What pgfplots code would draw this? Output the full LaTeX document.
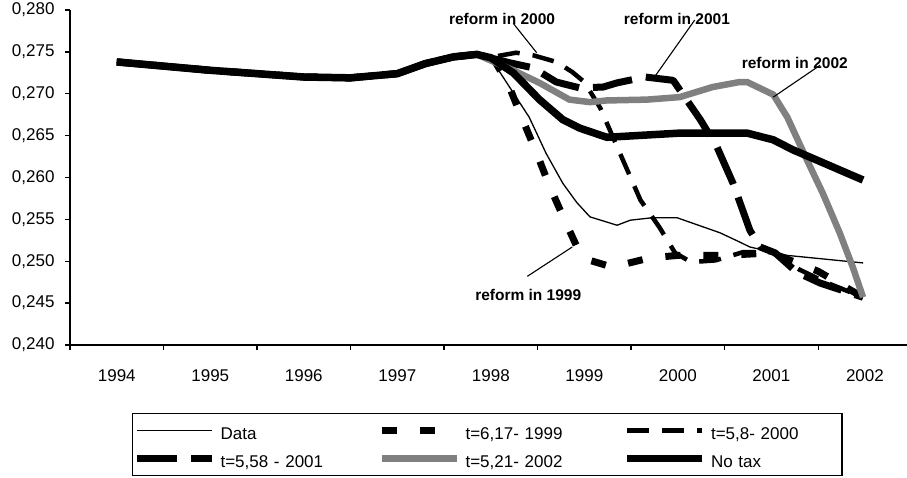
\documentclass[border=0pt]{standalone}
\usepackage{fontspec}
\setmainfont{Liberation Sans}
\usepackage{pgfplots}
\pgfplotsset{compat=1.18}
\definecolor{grayline}{RGB}{128,128,128}

\begin{document}
\begin{tikzpicture}
\useasboundingbox (-70pt,-132pt) rectangle (837pt,345pt);
\begin{axis}[
  scale only axis, width=837pt, height=335pt,
  xmin=1993.5, xmax=2002.45, ymin=0.240, ymax=0.280,
  axis lines*=left,
  axis line style={line width=1.5pt},
  clip=false,
  tick align=outside,
  major tick length=5pt,
  every tick/.style={black, line width=1.3pt},
  xtick={1993.5,1994.5,1995.5,1996.5,1997.5,1998.5,1999.5,2000.5,2001.5},
  xticklabels={},
  extra x ticks={1994,1995,1996,1997,1998,1999,2000,2001,2002},
  extra x tick labels={1994,1995,1996,1997,1998,1999,2000,2001,2002},
  extra x tick style={major tick length=0pt},
  ytick={0.240,0.245,0.250,0.255,0.260,0.265,0.270,0.275,0.280},
  scaled y ticks=false,
  yticklabel style={xshift=-7pt, /pgf/number format/.cd, fixed, fixed zerofill, precision=3, use comma},
  /pgf/number format/assume math mode=true,
  every tick label/.append style={font=\fontsize{17}{20}\selectfont},
  xticklabel style={yshift=-21pt},
  legend columns=3,
  legend image code/.code={\draw[#1] (0pt,9pt) -- (75pt,9pt);},
  legend style={
    at={(0.074,-0.2030)}, anchor=north west,
    draw=black, line width=1.3pt,
    inner xsep=1pt, inner ysep=8pt,
    row sep=10pt,
    font=\fontsize{17}{20}\selectfont,
    nodes={inner sep=0pt, anchor=base west, text height=18pt, text depth=0pt, text width=130pt, align=left},
    /tikz/every odd column/.append style={column sep=5pt},
    /tikz/every even column/.append style={column sep=28pt},
  },
  legend cell align=left,
  every axis plot/.append style={mark=none, line join=round},
]
% Data
\addplot[black, line width=1.3pt] coordinates {
(1994.0,0.2738) (1994.5,0.2733) (1995.0,0.2728) (1995.5,0.2724) (1996.0,0.2720) (1996.5,0.2719) (1997.0,0.2724) (1997.3,0.2736) (1997.6,0.2744) (1997.85,0.2747)
(1998.0,0.2740) (1998.06,0.2732) (1998.27,0.2696) (1998.41,0.2672) (1998.59,0.2629) (1998.77,0.2593) (1998.92,0.2570) (1999.06,0.2553) (1999.35,0.2543) (1999.49,0.2549) (1999.73,0.2552) (1999.99,0.2552) (2000.45,0.2534) (2000.66,0.2523) (2000.77,0.2517) (2001.17,0.2507) (2001.98,0.2498)};
\addlegendentry{Data}
% reform 1999
\addplot[black, line width=7pt, dash pattern=on 15pt off 23pt] coordinates {
(1994.0,0.2738) (1994.5,0.2733) (1995.0,0.2728) (1995.5,0.2724) (1996.0,0.2720) (1996.5,0.2719) (1997.0,0.2724) (1997.3,0.2736) (1997.6,0.2744) (1997.85,0.2747)
(1998.02,0.2743) (1998.18,0.2713) (1998.34,0.2669) (1998.49,0.2629) (1998.63,0.2589) (1998.79,0.2549) (1998.95,0.2510) (1999.06,0.2501) (1999.3,0.2493) (1999.7,0.2504) (2000.0,0.2507) (2000.5,0.2507) (2001.0,0.2510) (2001.5,0.2488) (2001.98,0.2457)};
\addlegendentry{t=6,17- 1999}
% reform 2000
\addplot[black, line width=4.5pt, dash pattern=on 22pt off 13pt] coordinates {
(1994.0,0.2738) (1994.5,0.2733) (1995.0,0.2728) (1995.5,0.2724) (1996.0,0.2720) (1996.5,0.2719) (1997.0,0.2724) (1997.3,0.2736) (1997.6,0.2744) (1997.85,0.2747)
(1998.02,0.2744) (1998.27,0.2749) (1998.45,0.2746) (1998.7,0.2738) (1998.87,0.2726) (1999.0,0.2714) (1999.17,0.2683) (1999.4,0.2624) (1999.6,0.2573) (1999.8,0.2541) (1999.97,0.2510) (2000.14,0.2499) (2000.4,0.2501) (2000.7,0.2511) (2001.0,0.2511) (2001.3,0.2490) (2001.6,0.2474) (2001.98,0.2457)};
\addlegendentry{t=5,8- 2000}
% reform 2001
\addplot[black, line width=7pt, dash pattern=on 40pt off 14pt] coordinates {
(1994.0,0.2738) (1994.5,0.2733) (1995.0,0.2728) (1995.5,0.2724) (1996.0,0.2720) (1996.5,0.2719) (1997.0,0.2724) (1997.3,0.2736) (1997.6,0.2744) (1997.85,0.2747)
(1998.2,0.2737) (1998.45,0.2731) (1998.7,0.2714) (1998.95,0.2707) (1999.2,0.2708) (1999.35,0.2713) (1999.65,0.2720) (1999.95,0.2716) (2000.24,0.2669) (2000.42,0.2636) (2000.59,0.2593) (2000.77,0.2537) (2000.88,0.2517) (2001.04,0.2510) (2001.27,0.2487) (2001.52,0.2474) (2001.98,0.2457)};
\addlegendentry{t=5,58 - 2001}
% reform 2002
\addplot[grayline, line width=6.5pt] coordinates {
(1994.0,0.2738) (1994.5,0.2733) (1995.0,0.2728) (1995.5,0.2724) (1996.0,0.2720) (1996.5,0.2719) (1997.0,0.2724) (1997.3,0.2736) (1997.6,0.2744) (1997.85,0.2747)
(1998.24,0.2728) (1998.52,0.2713) (1998.84,0.2693) (1999.06,0.2690) (1999.24,0.2692) (1999.67,0.2693) (2000.02,0.2696) (2000.37,0.2708) (2000.66,0.2714) (2000.74,0.2714) (2001.02,0.2699) (2001.17,0.2672) (2001.38,0.2621) (2001.55,0.2581) (2001.73,0.2534) (2001.87,0.2493) (2001.98,0.2457)};
\addlegendentry{t=5,21- 2002}
% no tax
\addplot[black, line width=7.5pt] coordinates {
(1994.0,0.2738) (1994.5,0.2733) (1995.0,0.2728) (1995.5,0.2724) (1996.0,0.2720) (1996.5,0.2719) (1997.0,0.2724) (1997.3,0.2736) (1997.6,0.2744) (1997.85,0.2747)
(1998.0,0.2743) (1998.24,0.2725) (1998.52,0.2693) (1998.77,0.2669) (1998.95,0.2659) (1999.24,0.2648) (2000.02,0.2653) (2000.74,0.2653) (2001.02,0.2645) (2001.23,0.2633) (2001.44,0.2623) (2001.73,0.2609) (2001.98,0.2597)};
\addlegendentry{No tax}
% annotations
\node[font=\bfseries\fontsize{15.5}{18}\selectfont] at (axis cs:1998.12,0.2789) {reform in 2000};
\draw[line width=1.1pt] (axis cs:1998.24,0.2784) -- (axis cs:1998.49,0.2749);
\node[font=\bfseries\fontsize{15.5}{18}\selectfont] at (axis cs:1999.99,0.2789) {reform in 2001};
\draw[line width=1.1pt] (axis cs:2000.18,0.2788) -- (axis cs:1999.75,0.2720);
\node[font=\bfseries\fontsize{15.5}{18}\selectfont] at (axis cs:2001.25,0.2737) {reform in 2002};
\draw[line width=1.1pt] (axis cs:2001.52,0.2734) -- (axis cs:2001.02,0.2696);
\node[font=\bfseries\fontsize{15.5}{18}\selectfont] at (axis cs:1998.40,0.2460) {reform in 1999};
\draw[line width=1.1pt] (axis cs:1998.39,0.2482) -- (axis cs:1998.87,0.2517);
\end{axis}
\end{tikzpicture}
\end{document}
